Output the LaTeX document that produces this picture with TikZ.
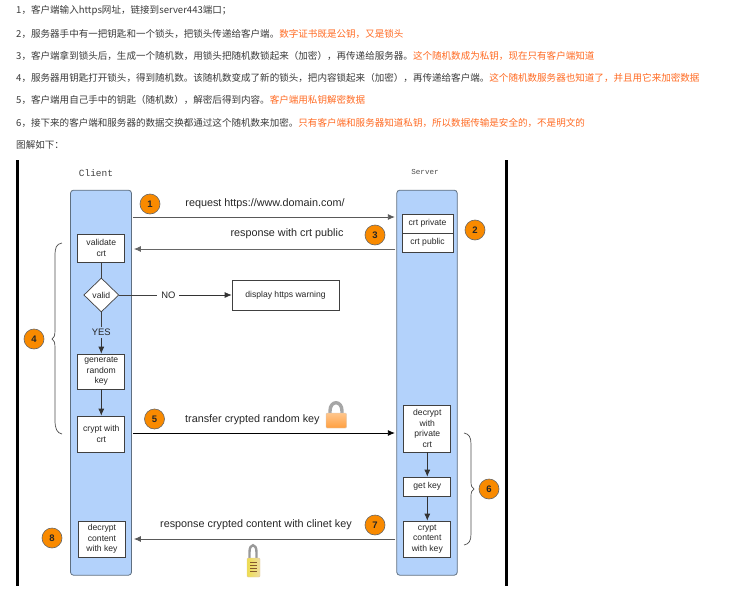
\documentclass[tikz,border=0pt]{standalone}
\usepackage{fontspec}
\setmainfont{Noto Sans CJK SC}
\newfontfamily\arialf{Liberation Sans}
\newfontfamily\monof{Liberation Mono}
\usetikzlibrary{arrows.meta,shapes.geometric}
\definecolor{txt}{HTML}{3A3A3A}
\definecolor{hot}{HTML}{FF6A22}
\definecolor{lanefill}{HTML}{B3D2FB}
\definecolor{laneline}{HTML}{5F6F80}
\definecolor{badge}{HTML}{F98A00}
\tikzset{
  x=1pt,y=-1pt,
  para/.style={anchor=west,inner sep=0pt,text=txt,font=\fontsize{9.55}{11}\selectfont},
  lane/.style={draw=laneline,line width=.8pt,fill=lanefill,rounded corners=3pt,inner sep=0pt},
  stepbox/.style={draw=black!75,line width=.7pt,fill=white,inner sep=0pt,align=center,text=black!85,font=\arialf\fontsize{8.6}{10.5}\selectfont},
  badgec/.style={circle,draw=black!60,line width=.6pt,fill=badge,minimum size=20pt,inner sep=0pt,text=black!85,font=\arialf\bfseries\fontsize{9.5}{11}\selectfont},
  msg/.style={inner sep=0pt,text=black!85,font=\arialf\fontsize{10.8}{12}\selectfont},
  lab/.style={inner sep=0pt,fill=none,text=black!85,font=\arialf\fontsize{9.4}{11}\selectfont},
  arr/.style={-{Latex[length=7pt,width=6pt]},line width=.8pt,draw=black!80},
  plainl/.style={line width=.7pt,draw=black!75},
  bar/.style={line width=3pt,draw=black},
  brc/.style={line width=.7pt,draw=black!70},
}
\begin{document}
\begin{tikzpicture}
\useasboundingbox (0,0) rectangle (748,600);
\node[para] (l1) at (16,11) {1，客户端输入https网址，链接到server443端口；};
\node[para] (l2) at (16,34) {2，服务器手中有一把钥匙和一个锁头，把锁头传递给客户端。\textcolor{hot}{数字证书既是公钥，又是锁头}};
\node[para] (l3) at (16,56) {3，客户端拿到锁头后，生成一个随机数，用锁头把随机数锁起来（加密），再传递给服务器。\textcolor{hot}{这个随机数成为私钥，现在只有客户端知道}};
\node[para] (l4) at (16,78) {4，服务器用钥匙打开锁头，得到随机数。该随机数变成了新的锁头，把内容锁起来（加密），再传递给客户端。\textcolor{hot}{这个随机数服务器也知道了，并且用它来加密数据}};
\node[para] (l5) at (16,100) {5，客户端用自己手中的钥匙（随机数），解密后得到内容。\textcolor{hot}{客户端用私钥解密数据}};
\node[para] (l6) at (16,123) {6，接下来的客户端和服务器的数据交换都通过这个随机数来加密。\textcolor{hot}{只有客户端和服务器知道私钥，所以数据传输是安全的，不是明文的}};
\node[para] (l7) at (16,145) {图解如下：};

\coordinate (b1a) at (17,160); \coordinate (b1b) at (17,586);
\coordinate (b2a) at (506.5,160); \coordinate (b2b) at (506.5,586);
\draw[bar] (b1a) -- (b1b);
\draw[bar] (b2a) -- (b2b);

\node[inner sep=0pt,text=black!75,font=\monof\fontsize{9.5}{11}\selectfont] (clientt) at (96,173) {Client};
\node[inner sep=0pt,text=black!70,font=\monof\fontsize{7.6}{9}\selectfont] (servert) at (425,172) {Server};

\node[lane,minimum width=61pt,minimum height=385pt] (client) at (101,382.7) {};
\node[lane,minimum width=60.5pt,minimum height=385pt] (server) at (427,382.7) {};

\node[stepbox,minimum width=47pt,minimum height=28pt] (validate) at (101.3,248) {validate\\crt};
\node[diamond,draw=black!75,line width=.7pt,fill=white,inner sep=0pt,minimum width=35pt,minimum height=34pt,text=black!85,font=\arialf\fontsize{8.6}{10}\selectfont] (valid) at (101.3,295) {valid};
\node[lab] (no) at (168.5,295) {NO};
\node[lab] (yes) at (101.3,332.5) {YES};
\node[stepbox,minimum width=107pt,minimum height=30pt] (warn) at (285.5,295) {display https warning};
\node[stepbox,minimum width=47pt,minimum height=35pt] (gen) at (101.3,371.5) {generate\\random\\key};
\node[stepbox,minimum width=47pt,minimum height=36pt] (cryptc) at (101.3,434) {crypt with\\crt};
\node[stepbox,minimum width=47pt,minimum height=36pt] (decc) at (102,539) {decrypt\\content\\with key};

\node[stepbox,minimum width=51pt,minimum height=19pt] (priv) at (427.5,223.5) {crt private};
\node[stepbox,minimum width=51pt,minimum height=19pt] (pub) at (427.5,242.5) {crt public};
\node[stepbox,minimum width=47pt,minimum height=47pt] (decs) at (427.3,428.5) {decrypt\\with\\private\\crt};
\node[stepbox,minimum width=47pt,minimum height=19pt] (getk) at (427.3,486.5) {get key};
\node[stepbox,minimum width=47pt,minimum height=36pt] (crypts) at (427.3,539) {crypt\\content\\with key};

\coordinate (yreq) at (0,217);
\coordinate (yres) at (0,249);
\coordinate (ytra) at (0,433);
\coordinate (ycon) at (0,539);
\draw[arr,draw=black!65] ([xshift=1pt]client.east |- yreq) -- ([xshift=-1.5pt]server.west |- yreq);
\draw[arr,draw=black!60] ([xshift=-1pt]server.west |- yres) -- ([xshift=2pt]client.east |- yres);
\draw[arr,draw=black] ([xshift=1pt]client.east |- ytra) -- ([xshift=-1.5pt]server.west |- ytra);
\draw[arr,draw=black!65] ([xshift=-1pt]server.west |- ycon) -- ([xshift=2pt]client.east |- ycon);

\draw[plainl] (validate) -- (valid);
\draw[plainl] (valid.east) -- (157,295);
\draw[arr,line width=.7pt] (179,295) -- (warn.west);
\draw[plainl,shorten >=2pt] (valid.south) -- (yes.north);
\draw[arr,line width=.7pt,shorten <=2pt] (yes.south) -- (gen.north);
\draw[arr,line width=.7pt] (gen) -- (cryptc);
\draw[arr,line width=.7pt] (decs) -- (getk);
\draw[arr,line width=.7pt] (getk) -- (crypts);

\node[msg] (m1) at (265,204) {request https://www.domain.com/};
\node[msg] (m2) at (287,234) {response with crt public};
\node[msg,anchor=west] (m3) at (185,420) {transfer crypted random key};
\node[msg,anchor=west] (m4) at (160,525) {response crypted content with clinet key};

\node[badgec] (c1) at (150,204) {1};
\node[badgec] (c2) at (475,230) {2};
\node[badgec] (c3) at (375,235) {3};
\node[badgec] (c4) at (34,339) {4};
\node[badgec] (c5) at (154.5,419) {5};
\node[badgec] (c6) at (489,489) {6};
\node[badgec] (c7) at (375,525) {7};
\node[badgec] (c8) at (52,538) {8};

% braces
\draw[brc] (62,243) .. controls (56,244) and (55,248) .. (55,256) -- (55,330) .. controls (55,336) and (54,338) .. (52,339) .. controls (54,340) and (55,342) .. (55,348) -- (55,420) .. controls (55,429) and (57,433) .. (62,434);
\draw[brc] (464,433) .. controls (469,434) and (471,437) .. (471,444) -- (471,482) .. controls (471,486) and (472,488) .. (474,489) .. controls (472,490) and (471,492) .. (471,496) -- (471,534) .. controls (471,541) and (469,544) .. (464,545);

% orange lock
\draw[line width=3.4pt,draw=black!35] (330,414) -- (330,411) .. controls (330,400) and (342,400) .. (342,411) -- (342,414);
\shade[top color=orange!45!white,bottom color=orange!75!white,rounded corners=1pt,draw=orange!35!black!25] (326,413) rectangle (346.5,428);

% gold lock
\draw[line width=2.4pt,draw=black!40] (249.5,560) -- (249.5,552) .. controls (249.5,543) and (256.5,543) .. (256.5,552) -- (256.5,560);
\shade[left color=yellow!65!brown!75,right color=yellow!40!brown!45,rounded corners=1pt,draw=brown!45] (247,558) rectangle (260,577);
\foreach \yy in {562,565,568,571} \draw[line width=1pt,draw=brown!70!black] (250,\yy) -- (257,\yy);
\end{tikzpicture}
\end{document}
